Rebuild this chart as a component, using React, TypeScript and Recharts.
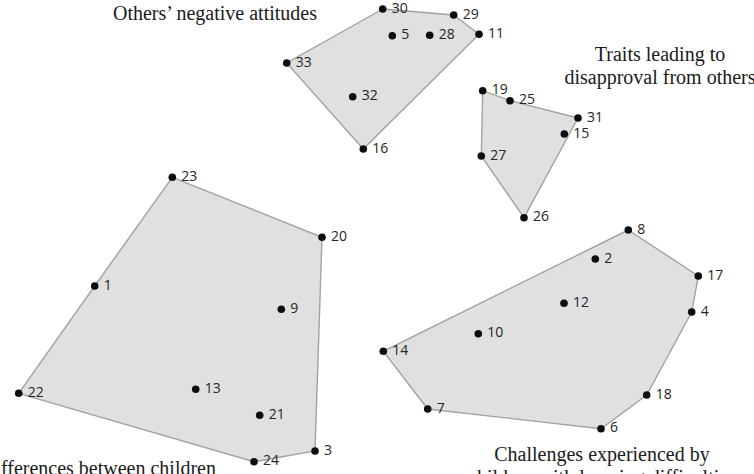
import { ScatterChart, Scatter, XAxis, YAxis } from 'recharts'

// statement numbers and their map positions, one group per cluster
const attitudesIds = [30, 29, 11, 5, 28, 33, 32, 16]
const attitudesX = [382.7, 453.7, 479, 392.3, 429.7, 286.7, 352.7, 363.3]
const attitudesY = [9, 15, 34.3, 35.7, 35.3, 63, 96.7, 149]
const attitudesHull = [30, 29, 11, 16, 33]

const traitsIds = [19, 25, 31, 15, 27, 26]
const traitsX = [482.7, 510, 578, 564.3, 481.3, 524]
const traitsY = [90.7, 100.7, 118, 134, 156, 217.7]
const traitsHull = [19, 25, 31, 26, 27]

const differencesIds = [23, 20, 1, 9, 22, 13, 21, 3, 24]
const differencesX = [172.3, 322, 94.7, 281.3, 18.7, 195.7, 259.7, 315, 254]
const differencesY = [177.3, 237.3, 286, 309.3, 393.3, 389.3, 415.3, 451, 461.7]
const differencesHull = [23, 20, 3, 24, 22, 1]

const challengesIds = [8, 2, 17, 12, 4, 10, 14, 18, 7, 6]
const challengesX = [628.3, 595.3, 698.3, 564, 691.7, 478.3, 383.3, 646.7, 427.7, 601]
const challengesY = [230, 259, 276, 303.3, 312, 333.7, 351.3, 395, 409, 428.7]
const challengesHull = [8, 17, 4, 18, 6, 7, 14]

const WIDTH = 754
const HEIGHT = 474

type Pt = { id: number; x: number; y: number }

function toPoints(ids: number[], xs: number[], ys: number[]): Pt[] {
  return ids.map((id, i) => ({ id, x: xs[i], y: ys[i] }))
}

function toHull(points: Pt[], order: number[]): Pt[] {
  const ring = order.map((id) => points.find((p) => p.id === id) as Pt)
  return [...ring, ring[0]]
}

const clusters = [
  { name: 'attitudes', points: toPoints(attitudesIds, attitudesX, attitudesY), hull: attitudesHull },
  { name: 'traits', points: toPoints(traitsIds, traitsX, traitsY), hull: traitsHull },
  { name: 'differences', points: toPoints(differencesIds, differencesX, differencesY), hull: differencesHull },
  { name: 'challenges', points: toPoints(challengesIds, challengesX, challengesY), hull: challengesHull },
]

const serif = '"Liberation Serif", "Times New Roman", serif'
const titleStyle = { fontFamily: serif, fontSize: 20, fill: '#1a1a1a' }

function Dot(props: any) {
  const { cx, cy, payload } = props
  return (
    <g>
      <circle cx={cx} cy={cy} r={3.8} fill="#0d0d0d" />
      <text
        x={cx + 9}
        y={cy + 3.5}
        fontFamily='"Open Sans", "Noto Sans", sans-serif'
        fontSize={14}
        fill="#262626"
      >
        {payload.id}
      </text>
    </g>
  )
}

export default function App() {
  return (
    <div style={{ position: 'absolute', left: 0, top: 0, width: WIDTH, height: HEIGHT, background: '#fff', overflow: 'hidden' }}>
      <ScatterChart width={WIDTH} height={HEIGHT} margin={{ top: 0, right: 0, bottom: 0, left: 0 }}>
        <XAxis type="number" dataKey="x" domain={[0, WIDTH]} hide allowDataOverflow />
        <YAxis type="number" dataKey="y" domain={[0, HEIGHT]} reversed hide allowDataOverflow />
        {clusters.map((c) => (
          <Scatter
            key={`${c.name}-hull`}
            data={toHull(c.points, c.hull)}
            line={{ stroke: '#a2a2a2', strokeWidth: 1.4, fill: '#e0e0e0' }}
            shape={() => <g />}
            isAnimationActive={false}
          />
        ))}
        {clusters.map((c) => (
          <Scatter
            key={`${c.name}-points`}
            data={c.points}
            shape={Dot}
            isAnimationActive={false}
          />
        ))}
      </ScatterChart>
      <svg
        width={WIDTH}
        height={HEIGHT}
        style={{ position: 'absolute', left: 0, top: 0, pointerEvents: 'none' }}
      >
        <text x={215} y={20} textAnchor="middle" {...titleStyle}>Others’ negative attitudes</text>
        <text x={660} y={61} textAnchor="middle" {...titleStyle}>Traits leading to</text>
        <text x={660} y={84} textAnchor="middle" {...titleStyle}>disapproval from others</text>
        <text x={602} y={461} textAnchor="middle" {...titleStyle}>Challenges experienced by</text>
        <text x={602} y={484} textAnchor="middle" {...titleStyle}>children with learning difficulties</text>
        <text x={216} y={475} textAnchor="end" {...titleStyle}>Differences between children</text>
      </svg>
    </div>
  )
}
